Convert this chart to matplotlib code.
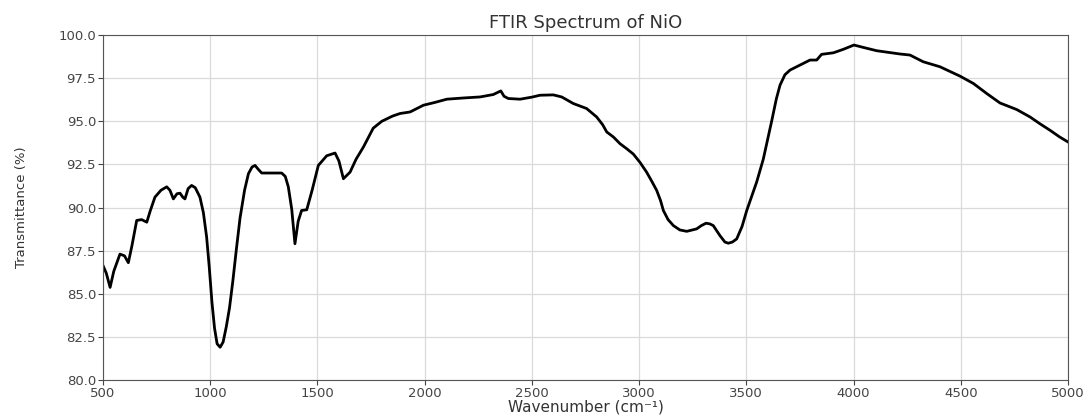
import matplotlib
matplotlib.use("Agg")
import matplotlib.pyplot as plt

# values
wavenumber = [
    500, 515, 533, 550, 579, 600, 618, 635, 657, 680, 704, 720, 742, 770,
    797, 812, 828, 845, 859, 872, 882, 897, 913, 930, 952, 968, 983, 995,
    1008, 1020, 1032, 1046, 1060, 1075, 1090, 1105, 1122, 1139, 1160, 1178,
    1195, 1209, 1225, 1240, 1290, 1333, 1350, 1364, 1380, 1395, 1410, 1426,
    1450, 1475, 1504, 1543, 1582, 1600, 1621, 1652, 1680, 1714, 1760, 1800,
    1850, 1885, 1932, 1994, 2050, 2103, 2180, 2258, 2320, 2355, 2370, 2390,
    2445, 2500, 2538, 2600, 2639, 2693, 2755, 2802, 2830, 2849, 2880, 2911,
    2942, 2973, 3005, 3035, 3060, 3082, 3100, 3113, 3135, 3160, 3190, 3222,
    3268, 3290, 3312, 3330, 3346, 3377, 3400, 3416, 3435, 3455, 3480, 3502,
    3548, 3579, 3618, 3640, 3657, 3680, 3704, 3750, 3797, 3828, 3851, 3906,
    3952, 4002, 4046, 4108, 4160, 4217, 4263, 4325, 4403, 4496, 4559, 4621,
    4683, 4761, 4823, 4870, 4916, 4960, 5000,
]
transmittance = [
    86.63, 86.2, 85.37, 86.3, 87.3, 87.2, 86.8, 87.8, 89.25, 89.3, 89.15,
    89.8, 90.6, 91.0, 91.2, 91.0, 90.5, 90.8, 90.83, 90.6, 90.5, 91.1, 91.28,
    91.15, 90.6, 89.7, 88.3, 86.6, 84.5, 83.0, 82.1, 81.9, 82.2, 83.1, 84.2,
    85.7, 87.6, 89.4, 91.0, 91.96, 92.35, 92.44, 92.2, 92.0, 92.0, 92.0,
    91.8, 91.2, 89.9, 87.9, 89.2, 89.83, 89.87, 91.0, 92.44, 93.0, 93.16,
    92.7, 91.67, 92.05, 92.8, 93.5, 94.6, 95.0, 95.3, 95.45, 95.54, 95.93,
    96.1, 96.28, 96.35, 96.41, 96.55, 96.76, 96.45, 96.32, 96.28, 96.4, 96.51,
    96.53, 96.41, 96.03, 95.74, 95.25, 94.8, 94.38, 94.09, 93.7, 93.41, 93.1,
    92.6, 92.05, 91.5, 90.99, 90.4, 89.83, 89.3, 88.95, 88.7, 88.62, 88.76,
    88.95, 89.09, 89.05, 88.95, 88.37, 88.0, 87.93, 88.0, 88.18, 88.9, 89.83,
    91.47, 92.8, 95.0, 96.3, 97.09, 97.7, 97.97, 98.26, 98.55, 98.55, 98.88,
    98.97, 99.17, 99.42, 99.28, 99.09, 99.0, 98.9, 98.84, 98.45, 98.16, 97.62,
    97.19, 96.61, 96.06, 95.68, 95.25, 94.85, 94.48, 94.1, 93.8,
]

fig = plt.figure(figsize=(10.88, 4.17), dpi=100)
# axes box: left 103px, right 1068px, top 35px, bottom 380px
ax = fig.add_axes([0.0947, 0.0887, 0.8869, 0.8273])

ax.plot(wavenumber, transmittance, color="black", linewidth=2.0)

ax.set_xlim(500, 5000)
ax.set_ylim(80, 100)
ax.set_xticks(range(500, 5001, 500))
ax.set_yticks([80, 82.5, 85, 87.5, 90, 92.5, 95, 97.5, 100])
ax.set_yticklabels(["80.0", "82.5", "85.0", "87.5", "90.0", "92.5", "95.0", "97.5", "100.0"])
ax.tick_params(labelsize=9.5, colors="#444444", length=3.5, pad=1.5)
ax.grid(True, color="#dadada", linewidth=0.9)

for s in ax.spines.values():
    s.set_color("#555555")

ax.set_title("FTIR Spectrum of NiO", fontsize=13, color="#333333", pad=5)
ax.set_xlabel("Wavenumber (cm\u207b\u00b9)", fontsize=11, color="#333333", labelpad=0)
ax.set_ylabel("Transmittance (%)", fontsize=9.5, color="#333333")
ax.yaxis.set_label_coords(-0.078, 0.5)

fig.savefig("out.png", dpi=100)
